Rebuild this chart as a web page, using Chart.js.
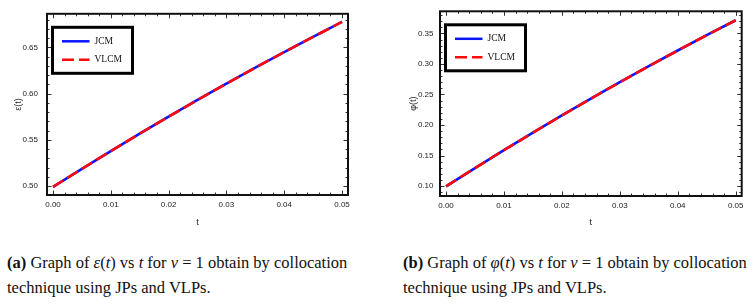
<!DOCTYPE html>
<html><head><meta charset="utf-8">
<script src="https://cdn.jsdelivr.net/npm/chart.js@4/dist/chart.umd.min.js"></script>
<style>
body{margin:0;background:#fff;width:753px;height:306px;overflow:hidden;position:relative;font-family:"Liberation Serif","Times New Roman",serif}
.wrap{position:absolute;top:0;height:240px}
.cap{position:absolute;top:251px;font-size:16.5px;line-height:24.5px;white-space:nowrap;color:#111}
</style></head><body>
<div class="wrap" style="left:0;width:376px"><canvas id="c1" width="376" height="240"></canvas></div>
<div class="wrap" style="left:376px;width:377px"><canvas id="c2" width="377" height="240"></canvas></div>
<div class="cap" style="left:7px"><b>(a)</b> Graph of <i>ε</i>(<i>t</i>) vs <i>t</i> for <i>ν</i> = 1 obtain by collocation<br>technique using JPs and VLPs.</div>
<div class="cap" style="left:403px"><b>(b)</b> Graph of <i>φ</i>(<i>t</i>) vs <i>t</i> for <i>ν</i> = 1 obtain by collocation<br>technique using JPs and VLPs.</div>
<script>
// ---- data ----
const tValues   = [0, 0.005, 0.01, 0.015, 0.02, 0.025, 0.03, 0.035, 0.04, 0.045, 0.05];
const epsJCM    = [0.4993, 0.5188, 0.5380, 0.5568, 0.5752, 0.5932, 0.6108, 0.6281, 0.6449, 0.6614, 0.6775];
const epsVLCM   = [0.4993, 0.5188, 0.5380, 0.5568, 0.5752, 0.5932, 0.6108, 0.6281, 0.6449, 0.6614, 0.6775];
const phiJCM    = [0.0995, 0.1295, 0.1588, 0.1875, 0.2157, 0.2432, 0.2701, 0.2964, 0.3221, 0.3472, 0.3716];
const phiVLCM   = [0.0995, 0.1295, 0.1588, 0.1875, 0.2157, 0.2432, 0.2701, 0.2964, 0.3221, 0.3472, 0.3716];
const seriesNames = ['JCM', 'VLCM'];
const xTickLabels   = ['0.00', '0.01', '0.02', '0.03', '0.04', '0.05'];
const epsTickLabels = ['0.50', '0.55', '0.60', '0.65'];
const phiTickLabels = ['0.10', '0.15', '0.20', '0.25', '0.30', '0.35'];
const xTitle = 't';
const epsTitle = 'ε(t)';
const phiTitle = 'φ(t)';

const tickFont = {family: '"Liberation Sans", Arial, sans-serif', size: 8};

const framePlugin = {
  id: 'frame',
  afterDraw(chart, args, opts) {
    const ctx = chart.ctx, a = chart.chartArea;
    const xs = chart.scales.x, ys = chart.scales.y;
    ctx.save();
    ctx.strokeStyle = '#333'; ctx.lineWidth = 1;
    const drawX = (v, len) => {
      const p = Math.round(xs.getPixelForValue(v)) + 0.5;
      if (p < a.left + 1 || p > a.right - 1) return;
      ctx.beginPath(); ctx.moveTo(p, a.bottom); ctx.lineTo(p, a.bottom - len);
      ctx.moveTo(p, a.top); ctx.lineTo(p, a.top + len); ctx.stroke();
    };
    const drawY = (v, len) => {
      const p = Math.round(ys.getPixelForValue(v)) + 0.5;
      if (p < a.top + 1 || p > a.bottom - 1) return;
      ctx.beginPath(); ctx.moveTo(a.left, p); ctx.lineTo(a.left + len, p);
      ctx.moveTo(a.right, p); ctx.lineTo(a.right - len, p); ctx.stroke();
    };
    xs.ticks.forEach(t => drawX(t.value, 4.5));
    ys.ticks.forEach(t => drawY(t.value, 4.5));
    for (let i = -1; i <= 26; i++) { if (i % 5 !== 0) drawX(i * opts.xMinor, 2.5); }
    const y0 = ys.ticks[0].value;
    for (let i = -5; i <= 40; i++) { if (i % 5 !== 0) drawY(y0 + i * opts.yMinor, 2.5); }
    ctx.strokeStyle = '#111'; ctx.lineWidth = 2;
    ctx.strokeRect(a.left, a.top, a.right - a.left, a.bottom - a.top);
    // legend
    const bx = a.left + 5.5, by = a.top + 13.5, bw = 80, bh = 46;
    ctx.lineWidth = 3; ctx.strokeStyle = '#000'; ctx.fillStyle = '#fff';
    ctx.fillRect(bx, by, bw, bh);
    ctx.strokeRect(bx, by, bw, bh);
    ctx.font = '9.5px "Liberation Serif", serif';
    ctx.textBaseline = 'middle';
    chart.data.datasets.forEach((ds, i) => {
      const yy = by + 14 + i * 18.5;
      ctx.save();
      ctx.strokeStyle = ds.borderColor; ctx.lineWidth = 2.5;
      ctx.setLineDash(ds.borderDash || []);
      ctx.beginPath(); ctx.moveTo(bx + 9.5, yy); ctx.lineTo(bx + 37, yy); ctx.stroke();
      ctx.restore();
      ctx.fillStyle = '#111';
      ctx.fillText(ds.label, bx + 42, yy);
    });
    ctx.restore();
  }
};

function makeChart(id, jcm, vlcm, yLabels, yMin, yMax, yTitle, geo) {
  return new Chart(document.getElementById(id), {
    type: 'line',
    data: {
      datasets: [
        {label: seriesNames[0], order: 2, data: tValues.map((t, i) => ({x: t, y: jcm[i]})),
         borderColor: '#0a14ff', borderWidth: 2.6, pointRadius: 0, tension: 0},
        {label: seriesNames[1], order: 1, data: tValues.map((t, i) => ({x: t, y: vlcm[i]})),
         borderColor: '#ff0a0a', borderWidth: 2.6, borderDash: [12, 5], pointRadius: 0, tension: 0}
      ]
    },
    options: {
      responsive: false, animation: false, devicePixelRatio: 1,
      layout: {padding: {left: 0, top: 10, right: geo.right, bottom: 0}},
      plugins: {legend: {display: false}, tooltip: {enabled: false}, frame: {xMinor: 0.002, yMinor: 0.01}},
      scales: {
        x: {type: 'linear', min: -0.00104, max: 0.05104,
            afterBuildTicks: s => { s.ticks = xTickLabels.map(v => ({value: parseFloat(v)})); },
            afterFit: s => { s.height = geo.xh; },
            ticks: {callback: v => v.toFixed(2), font: tickFont, color: '#222', padding: 5, maxRotation: 0, autoSkip: false},
            grid: {display: false, drawTicks: false}, border: {display: false},
            title: {display: true, text: xTitle, font: {family: '"Liberation Sans", sans-serif', size: 9}, color: '#222', padding: {top: 0, bottom: 12.5}}},
        y: {type: 'linear', min: yMin, max: yMax,
            afterBuildTicks: s => { s.ticks = yLabels.map(v => ({value: parseFloat(v)})); },
            afterFit: s => { s.width = geo.yw; },
            ticks: {callback: v => v.toFixed(2), font: tickFont, color: '#222', padding: geo.ypad, autoSkip: false},
            grid: {display: false, drawTicks: false}, border: {display: false},
            title: {display: true, text: yTitle, font: {family: '"Liberation Sans", sans-serif', size: 9}, color: '#222', padding: {top: geo.ytp, bottom: 0}}}
      }
    },
    plugins: [framePlugin]
  });
}

makeChart('c1', epsJCM, epsVLCM, epsTickLabels, 0.4905, 0.6863, epsTitle, {right: 28, xh: 45, yw: 47, ypad: 9, ytp: 13.5});
makeChart('c2', phiJCM, phiVLCM, phiTickLabels, 0.0837, 0.3863, phiTitle, {right: 11.3, xh: 44, yw: 64, ypad: 6.5, ytp: 32.5});
</script>
</body></html>
